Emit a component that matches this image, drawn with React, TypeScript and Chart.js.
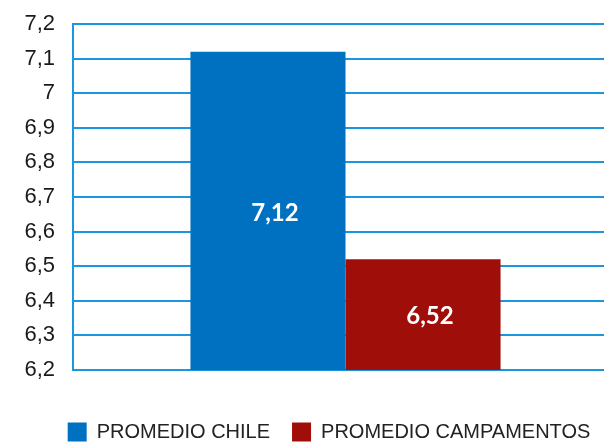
import React, { useEffect, useRef } from "react";
import { Chart, registerables } from "chart.js";

Chart.register(...registerables);

const categories: string[] = [""];
const seriesNames: string[] = ["PROMEDIO CHILE", "PROMEDIO CAMPAMENTOS"];
const chileValues: number[] = [7.12];
const campamentosValues: number[] = [6.52];
const yTickLabels: string[] = ["6,2", "6,3", "6,4", "6,5", "6,6", "6,7", "6,8", "6,9", "7", "7,1", "7,2"];

const BLUE = "#0070C0";
const RED = "#A00E0A";
const GRID = "#1A97DD";

function drawValueLabels(chart: any) {
  const ctx = chart.ctx;
  const area = chart.chartArea;
  ctx.save();
  ctx.fillStyle = "#ffffff";
  ctx.font = "bold 24px Lato";
  ctx.textAlign = "center";
  ctx.textBaseline = "middle";
  const sets = chart.data.datasets;
  for (let di = 0; di < sets.length; di++) {
    const meta = chart.getDatasetMeta(di);
    const els = meta.data;
    for (let i = 0; i < els.length; i++) {
      const el = els[i];
      const v = Number(sets[di].data[i]);
      const txt = v.toFixed(2).replace(".", ",");
      const base = Math.min(el.base, area.bottom);
      ctx.fillText(txt, el.x + 7, (el.y + base) / 2 + 2);
    }
  }
  ctx.restore();
}

export default function App() {
  const ref = useRef<HTMLCanvasElement | null>(null);
  useEffect(() => {
    document.body.style.margin = "0";
    document.body.style.overflow = "hidden";
    if (!ref.current) return;
    const chart = new Chart(ref.current, {
      type: "bar",
      data: {
        labels: categories,
        datasets: [
          { label: seriesNames[0], data: chileValues, backgroundColor: BLUE, borderWidth: 0 },
          { label: seriesNames[1], data: campamentosValues, backgroundColor: RED, borderWidth: 0 },
        ],
      },
      options: {
        animation: false,
        responsive: false,
        devicePixelRatio: 1,
        layout: { padding: { left: 0, right: 0, top: 24, bottom: 0 } },
        datasets: { bar: { categoryPercentage: 0.569, barPercentage: 1 } },
        scales: {
          x: {
            grid: { display: false },
            border: { display: false },
            ticks: { display: false },
            afterFit: (s: any) => {
              s.height = 30;
            },
          },
          y: {
            position: "left",
            min: 6.2,
            max: 7.2,
            ticks: {
              stepSize: 0.1,
              padding: 0,
              color: "#1a1a1a",
              font: { family: "Liberation Sans", size: 22 },
              callback: (_v: any, i: number) => yTickLabels[i],
            },
            grid: {
              color: GRID,
              lineWidth: 2,
              drawTicks: true,
              tickLength: 18,
              tickColor: "rgba(0,0,0,0)",
            },
            border: { display: true, color: GRID, width: 2 },
            afterFit: (s: any) => {
              s.width = 73;
            },
          },
          yRight: {
            position: "right",
            min: 6.2,
            max: 7.2,
            grid: { display: false, drawTicks: false },
            border: { display: false },
            ticks: { display: false },
            afterFit: (s: any) => {
              s.width = 40;
            },
          },
        },
        plugins: {
          tooltip: { enabled: false },
          legend: {
            position: "bottom",
            labels: {
              boxWidth: 19,
              boxHeight: 19,
              padding: 22,
              color: "#222222",
              font: { family: "Liberation Sans", size: 20 },
            },
          },
        },
      },
      plugins: [{ id: "valueLabels", afterDraw: (c: any) => drawValueLabels(c) }],
    });
    return () => chart.destroy();
  }, []);
  return (
    <div style={{ width: 604, height: 443, overflow: "hidden", position: "relative" }}>
      <canvas ref={ref} width={658} height={452} style={{ display: "block" }} />
    </div>
  );
}
